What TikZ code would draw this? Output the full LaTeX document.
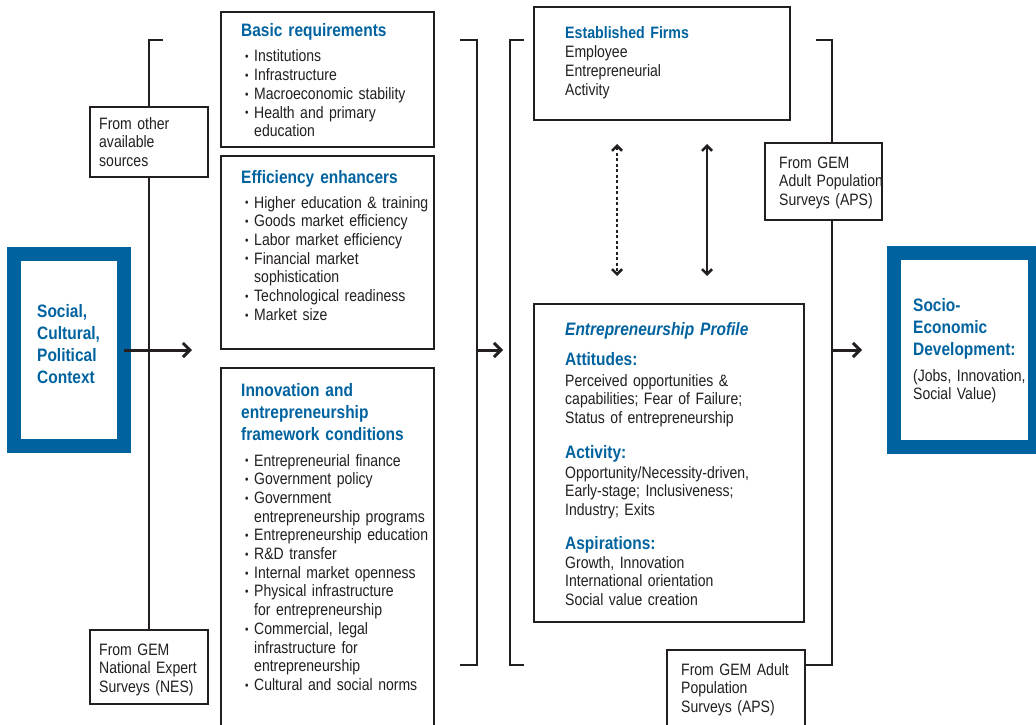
\documentclass[tikz,border=0pt]{standalone}
\usepackage{fontspec}
\setmainfont{Liberation Sans}[FakeStretch=0.85,WordSpace=0.8,
  BoldFeatures={FakeStretch=0.86,WordSpace=1},
  BoldItalicFeatures={FakeStretch=0.86,WordSpace=1}]
\usetikzlibrary{arrows.meta}

\definecolor{gemblue}{RGB}{0,99,160}
\definecolor{ink}{RGB}{35,31,32}
\newcommand{\headfont}{\fontsize{18}{22}\selectfont\bfseries}
\newcommand{\txtfont}{\fontsize{16.5}{18.7}\selectfont}
\newcommand{\itm}{\makebox[9pt][l]{\raisebox{1.2pt}{\scalebox{.7}{\textbullet}}}}
\newcommand{\ind}{\hspace*{9pt}}

\tikzset{
  box/.style={draw=ink,line width=1.2pt,fill=white,anchor=north west,inner sep=0pt,outer sep=0pt},
  blueframe/.style={draw=gemblue,line width=14pt,fill=white,inner sep=0pt,outer sep=0pt},
  head/.style={anchor=base west,inner sep=0pt,text width=230pt,align=left,text=gemblue,font=\headfont},
  txt/.style={anchor=base west,inner sep=0pt,text width=230pt,align=left,text=ink,font=\txtfont},
  wire/.style={draw=ink,line width=1.5pt},
  arr/.style={draw=ink,line width=3pt,-{Straight Barb[length=7pt,width=14pt]}},
  twoway/.style={draw=ink,line width=2.6pt,{Straight Barb[length=5pt,width=10pt]}-{Straight Barb[length=5pt,width=10pt]}}
}

\begin{document}
\begin{tikzpicture}[x=1pt,y=-1pt]
  \clip(0,0)rectangle(1036,725);

  % context
  \node[blueframe,minimum width=109.5pt,minimum height=192pt] (ctx) at (68.75,350) {};
  \node[head] (ctxT) at (37,317.5) {Social,\\Cultural,\\Political\\Context};

  % sources on the left
  \node[box,minimum width=118pt,minimum height=70pt] (other) at (90,107) {};
  \node[txt] (otherT) at (99,129) {From other\\available\\sources};
  \node[box,minimum width=118pt,minimum height=74pt] (nes) at (90,630) {};
  \node[txt] (nesT) at (99,655) {From GEM\\National Expert\\Surveys (NES)};
  \coordinate (lTop) at (163,40);
  \draw[wire](lTop)-|(other.north);
  \draw[wire](other.south)--(nes.north);

  % pillars
  \node[box,minimum width=213pt,minimum height=135pt] (basic) at (221,12) {};
  \node[head] (basicT) at (241,36.5) {Basic requirements};
  \node[txt] (basicL) at (245,62) {\itm Institutions\\\itm Infrastructure\\\itm Macroeconomic stability\\\itm Health and primary\\\ind education};

  \node[box,minimum width=213pt,minimum height=193pt] (eff) at (221,156) {};
  \node[head] (effT) at (241,183.5) {Efficiency enhancers};
  \node[txt] (effL) at (245,208) {\itm Higher education \& training\\\itm Goods market efficiency\\\itm Labor market efficiency\\\itm Financial market\\\ind sophistication\\\itm Technological readiness\\\itm Market size};

  \node[box,minimum width=213pt,minimum height=370pt] (innov) at (221,368) {};
  \node[head] (innovT) at (241,396.5) {Innovation and\\entrepreneurship\\framework conditions};
  \node[txt] (innovL) at (245,466) {\itm Entrepreneurial finance\\\itm Government policy\\\itm Government\\\ind entrepreneurship programs\\\itm Entrepreneurship education\\\itm R\&D transfer\\\itm Internal market openness\\\itm Physical infrastructure\\\ind for entrepreneurship\\\itm Commercial, legal\\\ind infrastructure for\\\ind entrepreneurship\\\itm Cultural and social norms};

  \coordinate (mTop) at (460,40);
  \coordinate (mCor) at (477,665);
  \coordinate (mBot) at (460,665);
  \coordinate (mTip) at (503,350);
  \draw[wire](mTop)-|(mCor)--(mBot);
  \draw[arr](ctx.east)--(192,350);
  \draw[arr](mCor|-ctx.east)--(mTip);

  % entrepreneurship
  \coordinate (pTop) at (524,40);
  \coordinate (pCor) at (510,665);
  \coordinate (pBot) at (524,665);
  \draw[wire](pTop)-|(pCor)--(pBot);

  \node[box,minimum width=256pt,minimum height=113pt] (estab) at (534,7) {};
  \node[head,font=\fontsize{16.5}{18.7}\selectfont\bfseries] (estabT) at (565,39) {Established Firms};
  \node[txt] (estabL) at (565,58) {Employee\\Entrepreneurial\\Activity};

  \node[box,minimum width=270pt,minimum height=318pt] (prof) at (534,304) {};
  \node[head,font=\headfont\itshape] (profT) at (565,335) {Entrepreneurship Profile};
  \node[head] (attT) at (565,365.5) {Attitudes:};
  \node[txt] (attL) at (565,386) {Perceived opportunities \&\\capabilities; Fear of Failure;\\Status of entrepreneurship};
  \node[head] (actT) at (565,458.5) {Activity:};
  \node[txt] (actL) at (565,478) {Opportunity/Necessity-driven,\\Early-stage; Inclusiveness;\\Industry; Exits};
  \node[head] (aspT) at (565,549.5) {Aspirations:};
  \node[txt] (aspL) at (565,568) {Growth, Innovation\\International orientation\\Social value creation};

  \coordinate (dA1) at (617,144);
  \coordinate (dA2) at (617,276);
  \coordinate (dB1) at (707,144);
  \coordinate (dB2) at (707,276);
  \draw[twoway,dash pattern=on 3pt off 2.5pt](dA1)--(dA2);
  \draw[twoway](dB1)--(dB2);

  % sources on the right
  \node[box,minimum width=117pt,minimum height=77pt] (apsA) at (765,143) {};
  \node[txt] (apsAT) at (779,168) {From GEM\\Adult Population\\Surveys (APS)};
  \node[box,minimum width=138pt,minimum height=85pt] (apsB) at (667,650) {};
  \node[txt] (apsBT) at (681,675) {From GEM Adult\\Population\\Surveys (APS)};

  \coordinate (rTop) at (816,40);
  \coordinate (rCor) at (832,665);
  \draw[wire](rTop)-|(rCor|-apsA.north);
  \draw[wire](rCor|-apsA.south)--(rCor)--(apsB.east|-rCor);

  % development
  \node[blueframe,minimum width=141.5pt,minimum height=194pt] (socio) at (964.25,350) {};
  \node[head] (socioT) at (913,311.5) {Socio-\\Economic\\Development:};
  \node[txt] (socioL) at (913,381) {(Jobs, Innovation,\\Social Value)};
  \coordinate (sTip) at (862,350);
  \draw[arr](rCor|-socio.west)--(sTip);
\end{tikzpicture}
\end{document}
